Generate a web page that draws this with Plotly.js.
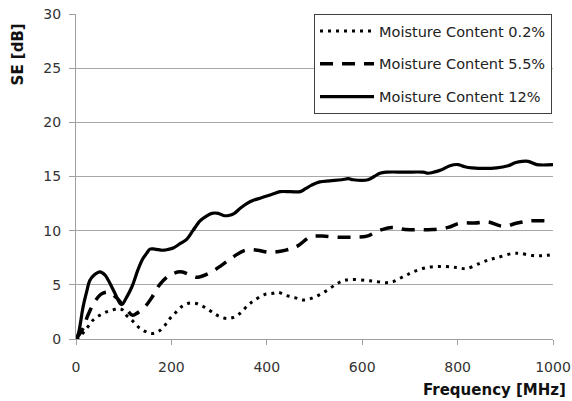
<!DOCTYPE html>
<html>
<head>
<meta charset="utf-8">
<script src="https://cdn.plot.ly/plotly-3.0.1.min.js"></script>
<style>html,body{margin:0;padding:0;background:#fff;}#chart{width:572px;height:401px;}</style>
</head>
<body>
<div id="chart"></div>
<script>
// Moisture Content 0.2% (dotted)
const x02 = [0,10,19,28,36,50,64,78,88,97,103,117,131,145,159,173,187,197,208,222,236,250,262,275,288,300,315,330,345,360,375,395,411,424,442,460,475,490,511,530,547,562,578,609,630,651,665,679,693,707,736,770,798,819,847,865,882,916,931,958,980,1000];
const y02 = [0,0.3,0.8,1.3,1.75,2.2,2.5,2.7,2.8,2.7,2.3,1.75,1.1,0.7,0.5,0.7,1.3,1.9,2.4,3.0,3.3,3.3,3.1,2.8,2.4,2.1,1.9,2.0,2.4,3.1,3.6,4.1,4.2,4.3,4.0,3.8,3.6,3.7,4.1,4.6,5.1,5.4,5.5,5.4,5.3,5.2,5.3,5.6,5.9,6.2,6.6,6.7,6.6,6.5,7.0,7.3,7.5,7.9,7.9,7.7,7.7,7.8];
// Moisture Content 5.5% (dashed)
const x55 = [0,15,25,40,55,70,85,103,118,125,145,160,175,197,220,245,255,280,305,330,355,380,405,440,465,490,515,550,580,610,635,662,690,720,748,780,805,836,864,895,925,952,1000];
const y55 = [0,1.0,2.2,3.5,4.2,4.3,3.8,2.9,2.2,2.3,3.0,3.9,5.0,5.9,6.2,5.8,5.7,6.1,6.8,7.6,8.2,8.2,8.0,8.2,8.6,9.4,9.5,9.4,9.4,9.5,10.0,10.3,10.1,10.1,10.1,10.3,10.7,10.7,10.8,10.4,10.7,10.9,10.9];
// Moisture Content 12% (solid)
const x12 = [0,5,15,22,29,38,50,61,68,75,84,92,97,103,117,130,140,148,155,165,178,185,195,204,218,232,245,260,272,285,298,309,320,332,345,358,372,386,400,414,428,450,470,482,494,511,532,557,571,581,612,625,637,651,690,728,738,750,765,784,801,815,830,882,906,922,935,948,966,1000];
const y12 = [0,0.5,3.0,4.3,5.4,5.9,6.2,5.9,5.4,4.8,4.0,3.3,3.2,3.6,4.8,6.4,7.4,7.9,8.3,8.3,8.2,8.2,8.3,8.4,8.8,9.2,10.0,10.9,11.3,11.6,11.6,11.4,11.4,11.6,12.1,12.5,12.8,13.0,13.2,13.4,13.6,13.6,13.6,13.9,14.2,14.5,14.6,14.7,14.8,14.7,14.7,15.0,15.3,15.4,15.4,15.4,15.3,15.4,15.6,16.0,16.1,15.9,15.8,15.8,16.0,16.3,16.4,16.4,16.1,16.1];

const names = ['Moisture Content 0.2%','Moisture Content 5.5%','Moisture Content 12%'];
const xTicks = [0,200,400,600,800,1000];
const yTicks = [0,5,10,15,20,25,30];

const FONT = '"DejaVu Sans", sans-serif';

const traces = [
  {x:x02, y:y02, name:names[0], mode:'lines', legendgroup:'a', line:{color:'#000', width:3, dash:'3px,5px', shape:'spline'}},
  {x:x55, y:y55, name:names[1], mode:'lines', legendgroup:'b', line:{color:'#000', width:3.5, dash:'13px,9px', shape:'spline'}},
  {x:x12, y:y12, name:names[2], mode:'lines', legendgroup:'c', line:{color:'#000', width:3.2, shape:'spline'}}
];

const layout = {
  width:572, height:401,
  margin:{l:76, r:19, t:13.5, b:62},
  paper_bgcolor:'#fff', plot_bgcolor:'#fff',
  font:{family:FONT, size:14, color:'#333'},
  showlegend:true,
  legend:{x:0.499, y:1.0, xanchor:'left', yanchor:'top', bgcolor:'#fff', bordercolor:'#404040', borderwidth:1,
          font:{family:FONT, size:14.5, color:'#222'}, traceorder:'grouped', tracegroupgap:11, itemwidth:54},
  xaxis:{range:[0,1000], tickvals:xTicks, showgrid:false, zeroline:false, showline:true, linecolor:'#a0a0a0', linewidth:1,
         ticks:'outside', ticklen:5, tickcolor:'#a0a0a0', ticklabelstandoff:10, tickfont:{family:FONT, size:14, color:'#333'}, fixedrange:true},
  yaxis:{range:[0,30], tickvals:yTicks, showgrid:true, gridcolor:'#a8a8a8', gridwidth:1, zeroline:false, showline:true, linecolor:'#a0a0a0', linewidth:1,
         ticks:'outside', ticklen:6, tickcolor:'#a0a0a0', ticklabelstandoff:5, tickfont:{family:FONT, size:14, color:'#333'}, fixedrange:true},
  annotations:[
    {text:'<b>Frequency [MHz]</b>', xref:'paper', yref:'paper', x:1.031, y:-0.156, xanchor:'right', yanchor:'middle', showarrow:false,
     font:{family:FONT, size:15, color:'#111'}},
    {text:'<b>SE [dB]</b>', xref:'paper', yref:'paper', x:-0.1216, y:0.8756, xanchor:'center', yanchor:'middle', textangle:-90, showarrow:false,
     font:{family:FONT, size:15, color:'#111'}}
  ]
};

Plotly.newPlot('chart', traces, layout, {displayModeBar:false, staticPlot:true});
</script>
</body>
</html>
